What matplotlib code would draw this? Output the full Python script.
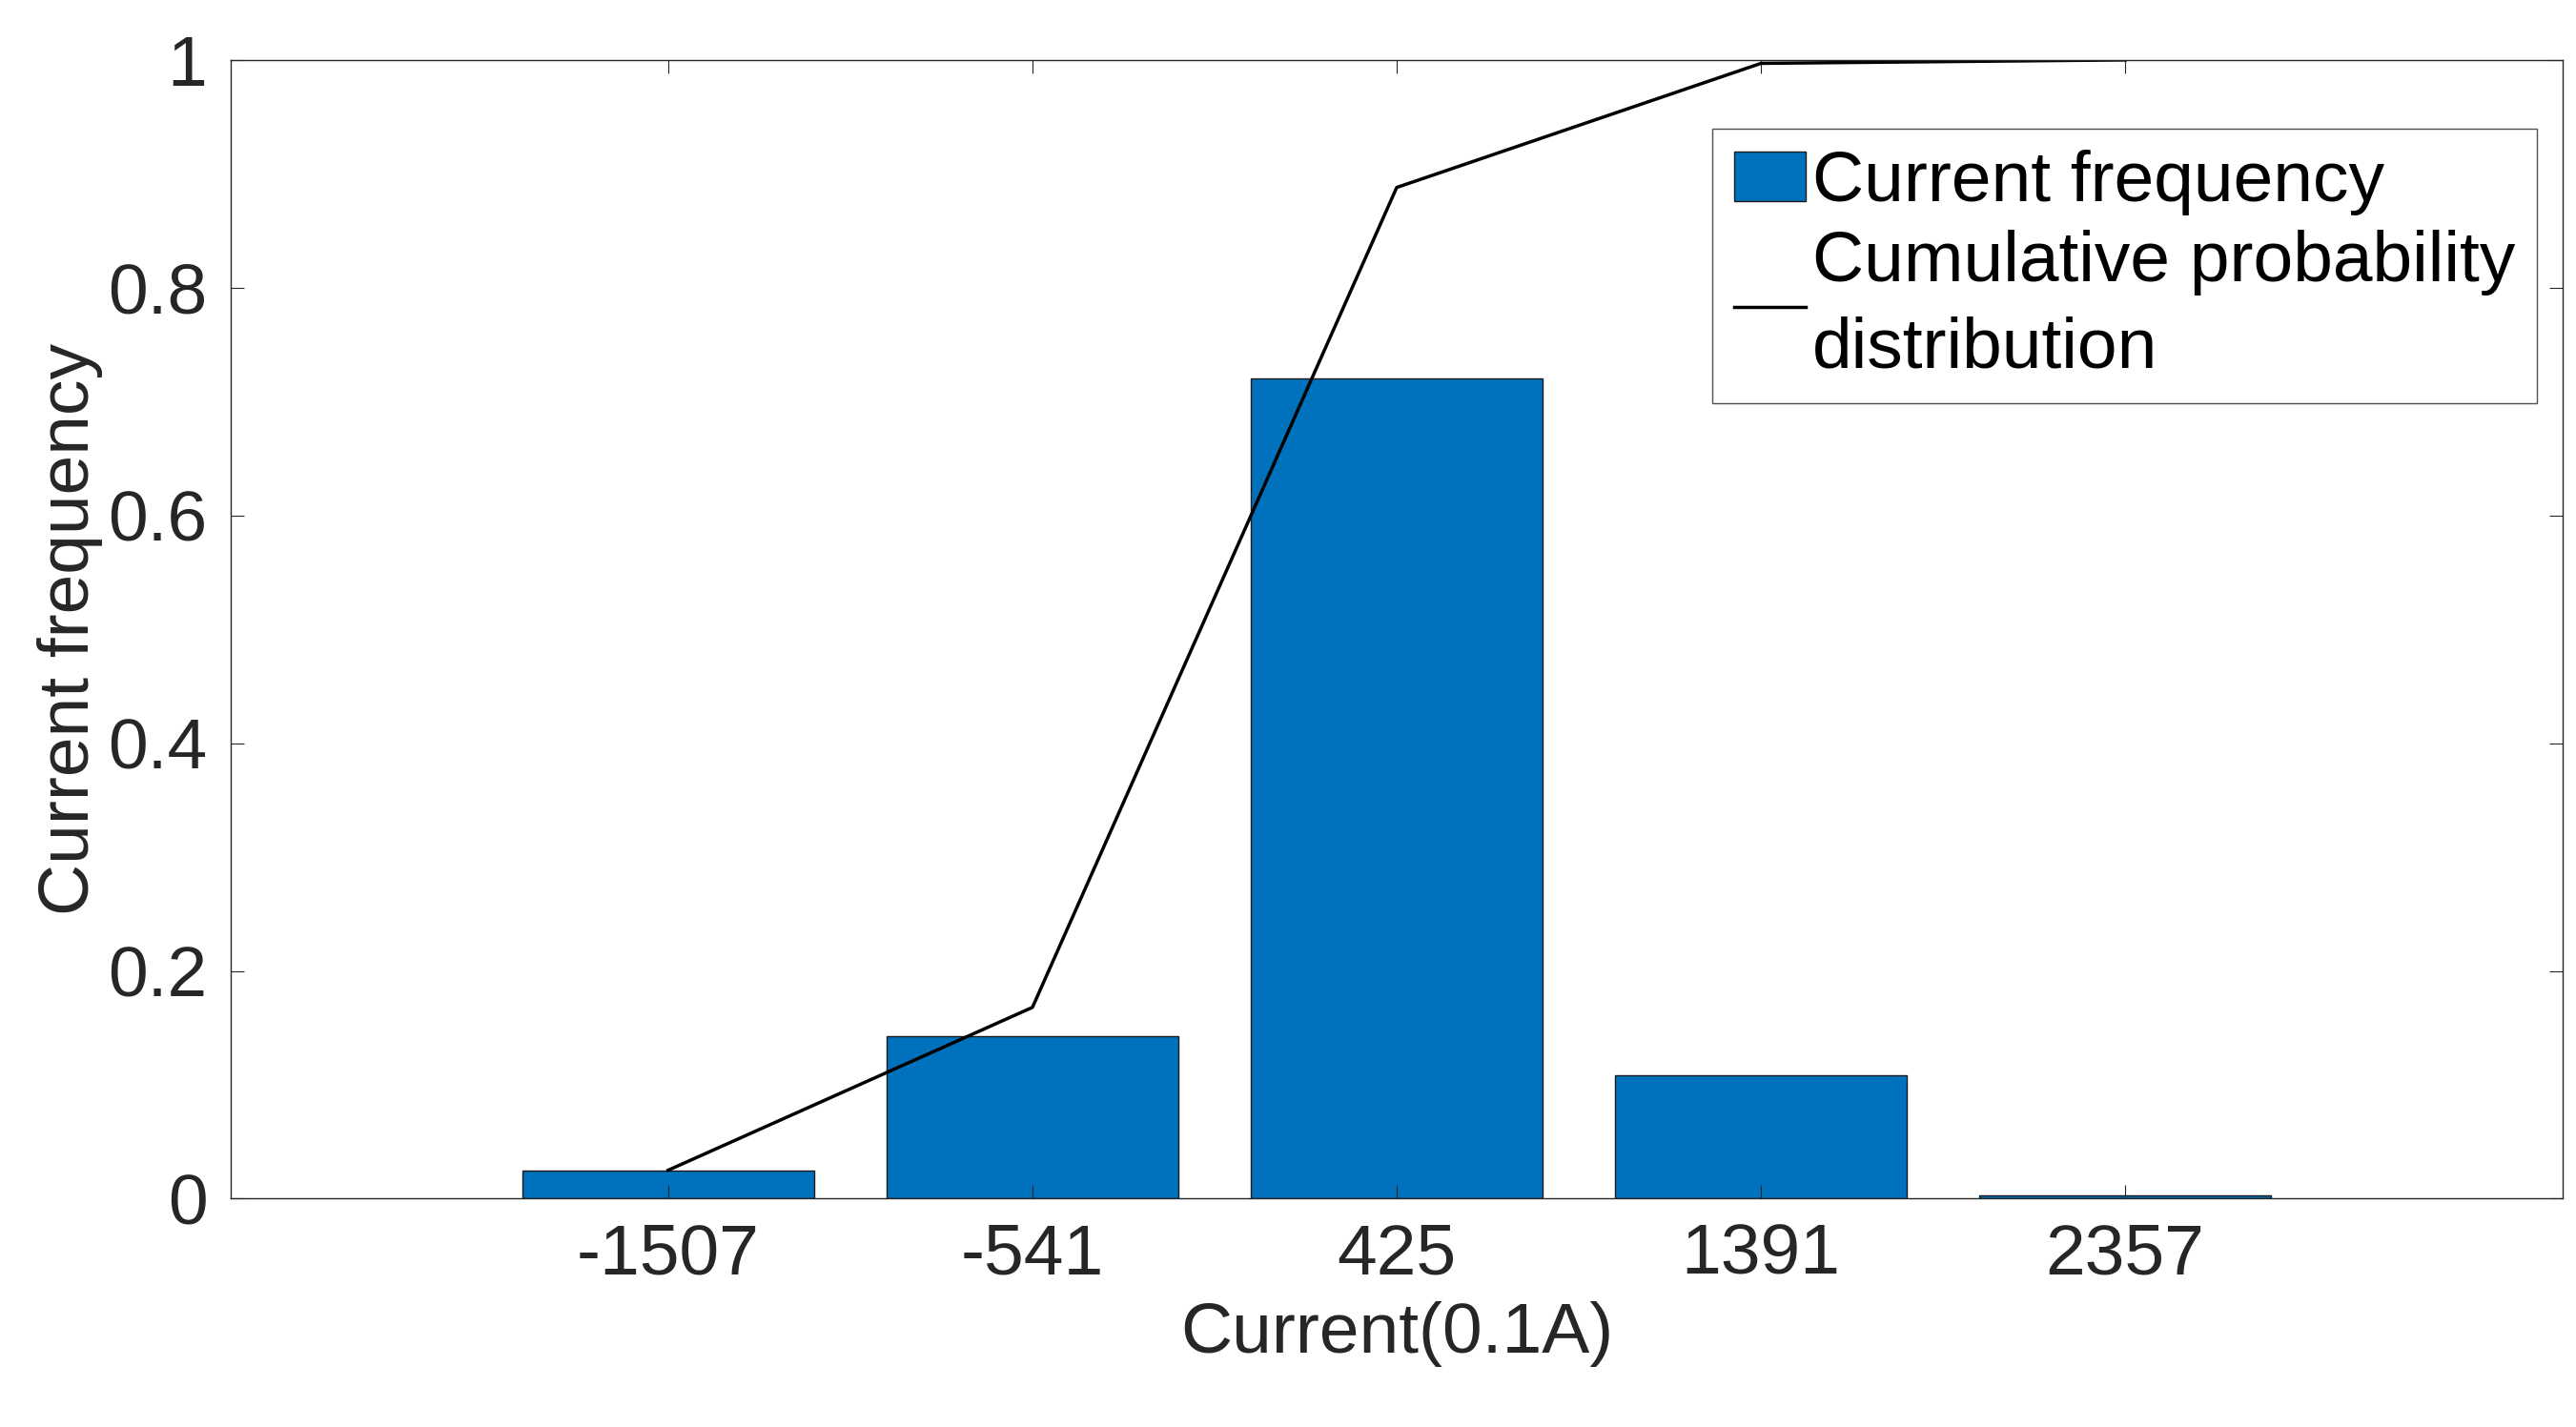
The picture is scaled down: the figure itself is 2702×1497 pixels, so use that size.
import matplotlib
matplotlib.use("Agg")
import matplotlib.pyplot as plt
import numpy as np

# Data
categories = ["-1507", "-541", "425", "1391", "2357"]
frequency = [0.025, 0.143, 0.72, 0.108, 0.003]
cumulative = [0.025, 0.168, 0.888, 0.997, 1.0]

plt.rcParams["font.family"] = ["Liberation Sans", "DejaVu Sans"]
fs = 54

fig = plt.figure(figsize=(27.02, 14.97), dpi=100)
ax = fig.add_axes([0.0897, 0.160, 0.905, 0.798])

x = np.arange(1, len(categories) + 1)
bars = ax.bar(x, frequency, width=0.8, color="#0072BD", edgecolor="#1a1a1a", lw=1.0)
line, = ax.plot(x, cumulative, color="black", lw=2.5)

ax.set_xlim(-0.2, 6.2)
ax.set_ylim(0, 1)
ax.set_xticks(x)
ax.set_xticklabels(categories)
ax.set_yticks([0, 0.2, 0.4, 0.6, 0.8, 1])
ax.set_yticklabels(["0", "0.2", "0.4", "0.6", "0.8", "1"])
ax.tick_params(labelsize=fs, colors="#262626", direction="in", length=10,
               top=True, right=True, pad=18)
for s in ax.spines.values():
    s.set_color("#262626")
    s.set_linewidth(1.0)

ax.set_xlabel("Current(0.1A)", fontsize=fs, color="#262626", labelpad=10)
ax.set_ylabel("Current frequency", fontsize=fs, color="#262626", labelpad=4)

leg = ax.legend([bars, line],
                ["Current frequency", "Cumulative probability\ndistribution"],
                loc="upper right", bbox_to_anchor=(0.989, 0.94), fontsize=fs,
                frameon=True, fancybox=False, handlelength=1.0,
                handletextpad=0.1, borderpad=0.3, labelspacing=0.2,
                borderaxespad=0)
for t in leg.get_texts():
    t.set_linespacing(1.4)
leg.get_frame().set_edgecolor("#262626")
leg.get_frame().set_linewidth(1.0)

fig.savefig("out.png", dpi=100)
